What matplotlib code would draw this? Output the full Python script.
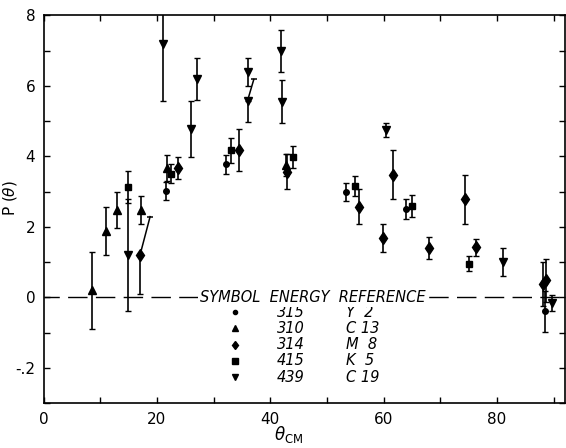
import matplotlib.pyplot as plt

# P(theta) data (units of 0.1)
dot_x = [21.6, 32.2, 53.4, 63.9, 88.5]
dot_y = [3.01, 3.77, 2.98, 2.50, -0.40]
dot_err = [0.25, 0.28, 0.25, 0.28, 0.58]

tri_x = [8.6, 11.0, 12.9, 17.2, 21.8, 42.8]
tri_y = [0.20, 1.89, 2.48, 2.48, 3.67, 3.75]
tri_err = [1.10, 0.68, 0.50, 0.40, 0.38, 0.32]

dia_x = [17.0, 23.8, 34.5, 43.0, 55.6, 59.9, 61.7, 68.1, 74.3, 76.3, 88.1, 88.7]
dia_y = [1.19, 3.68, 4.17, 3.56, 2.57, 1.68, 3.48, 1.40, 2.78, 1.42, 0.37, 0.48]
dia_err = [1.10, 0.31, 0.60, 0.50, 0.49, 0.40, 0.70, 0.31, 0.70, 0.24, 0.62, 0.62]

sq_x = [14.9, 22.4, 33.1, 44.1, 55.0, 65.1, 75.1]
sq_y = [3.14, 3.51, 4.17, 3.98, 3.15, 2.59, 0.96]
sq_err = [0.45, 0.28, 0.35, 0.30, 0.28, 0.30, 0.21]

dtri_x = [14.9, 21.0, 26.0, 27.1, 36.0, 36.0, 41.9, 42.1, 60.4, 81.1, 89.8]
dtri_y = [1.20, 7.19, 4.78, 6.19, 6.39, 5.58, 6.99, 5.55, 4.75, 1.01, -0.15]
dtri_err = [1.60, 1.61, 0.80, 0.60, 0.40, 0.60, 0.60, 0.60, 0.20, 0.40, 0.23]

# upper error bars drawn slanted in the original: (series, index, x of top cap)
slanted = [("dia", 0, 18.8), ("dtri", 5, 37.1)]

energies = ["315", "310", "314", "415", "439"]
references = ["Y  2", "C 13", "M  8", "K  5", "C 19"]

xticks = [0, 10, 20, 30, 40, 50, 60, 70, 80, 90]
xticklabels = ["0", "", "20", "", "40", "", "60", "", "80", ""]
yticks = [-3, -2, -1, 0, 1, 2, 3, 4, 5, 6, 7, 8]
yticklabels = ["", "-.2", "", "0", "", "2", "", "4", "", "6", "", "8"]

series = {
    "dot": (dot_x, dot_y, dot_err, "o", 4.0),
    "tri": (tri_x, tri_y, tri_err, "^", 5.5),
    "dia": (dia_x, dia_y, dia_err, "d", 6.0),
    "sq": (sq_x, sq_y, sq_err, "s", 5.0),
    "dtri": (dtri_x, dtri_y, dtri_err, "v", 6.0),
}
order = ["dot", "tri", "dia", "sq", "dtri"]

fig = plt.figure(figsize=(5.66, 4.48), dpi=100)
ax = fig.add_axes([0.077, 0.1, 0.921, 0.866])

ax.axhline(0, color="black", lw=1.0, ls=(3, (14, 6)), zorder=1)

for key in order:
    xs, ys, errs, mk, ms = series[key]
    up = list(errs)
    for name, idx, xtop in slanted:
        if name == key:
            up[idx] = 0
            ax.plot([xs[idx], xtop], [ys[idx], ys[idx] + errs[idx]],
                    color="black", lw=1.1, zorder=2)
            ax.plot([xtop], [ys[idx] + errs[idx]], marker="_", ms=5,
                    mew=1.1, color="black")
    ax.errorbar(xs, ys, yerr=[errs, up], fmt=mk, ms=ms, color="black",
                ecolor="black", elinewidth=1.2, capsize=2.2, capthick=1.0,
                zorder=3)

# legend block
ax.text(47.5, 0, "SYMBOL  ENERGY  REFERENCE", ha="center", va="center",
        fontsize=10.5, style="italic", zorder=4,
        bbox=dict(facecolor="white", edgecolor="none", pad=1.5))
for i, key in enumerate(order):
    ly = -0.42 - 0.46 * i
    mk, ms = series[key][3], series[key][4]
    ax.plot([33.8], [ly], marker=mk, ms=ms * 0.75, color="black")
    ax.text(43.6, ly, energies[i], ha="center", va="center",
            fontsize=10.5, style="italic")
    ax.text(53.3, ly, references[i], ha="left", va="center",
            fontsize=10.5, style="italic")

ax.set_xlim(0, 92)
ax.set_ylim(-3, 8)
ax.set_xticks(xticks)
ax.set_xticklabels(xticklabels, fontsize=11)
ax.set_yticks(yticks)
ax.set_yticklabels(yticklabels, fontsize=11)
ax.tick_params(direction="in", length=4, width=1, top=True, right=True,
               pad=6)
for s in ax.spines.values():
    s.set_linewidth(1.2)

ax.set_ylabel(r"P ($\theta$)", fontsize=11)
ax.yaxis.set_label_coords(-0.048, 0.53)
ax.set_xlabel(r"$\theta_{\rm CM}$", fontsize=12)
ax.xaxis.set_label_coords(0.47, -0.054)

fig.savefig("out.png", dpi=100)
